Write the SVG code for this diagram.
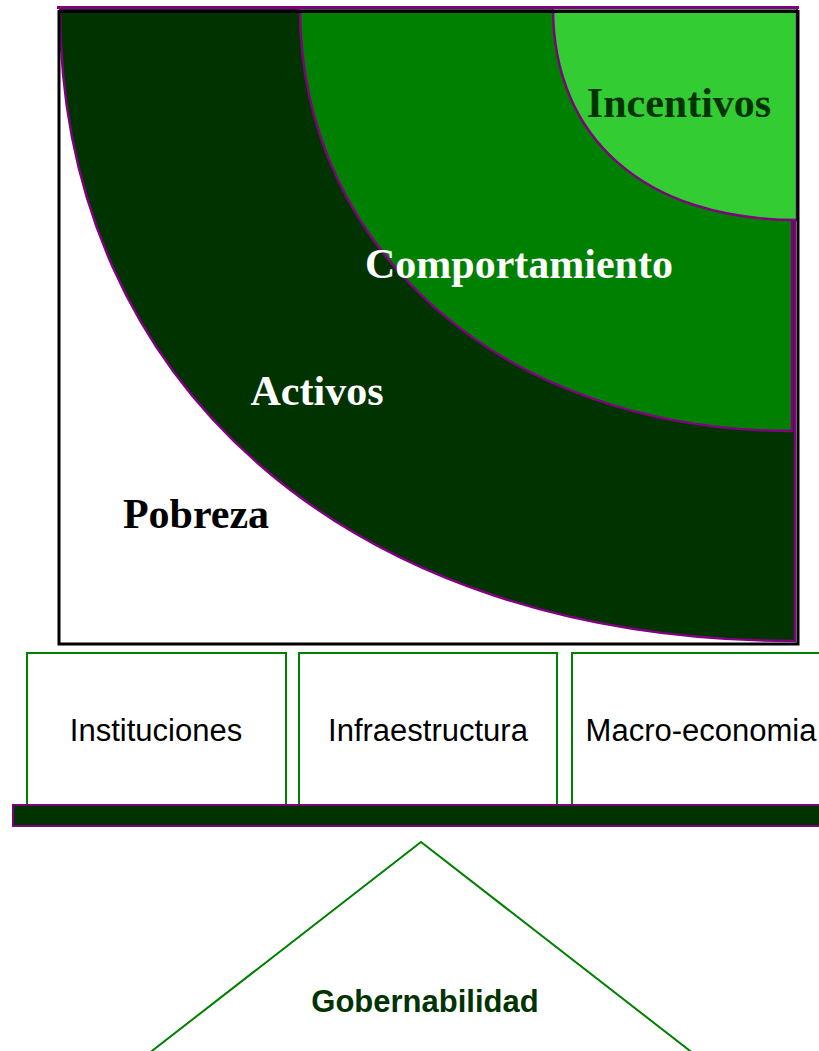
<svg xmlns="http://www.w3.org/2000/svg" width="819" height="1051" viewBox="0 0 819 1051">
  <style>
    .band { stroke: #800080; stroke-width: 2.5; }
    .lbl { font-family: "Liberation Serif", "Times New Roman", serif; font-weight: bold; font-size: 42px; text-anchor: middle; }
    .box { fill: #ffffff; stroke: #008000; stroke-width: 2; }
    .btxt { font-family: "Liberation Sans", Arial, sans-serif; font-size: 31px; fill: #000000; text-anchor: middle; }
  </style>
  <rect x="0" y="0" width="819" height="1051" fill="#ffffff"/>
  <g id="pobreza">
    <rect x="59" y="11.5" width="739" height="632.5" fill="#ffffff" stroke="none"/>
  </g>
  <g id="activos">
    <path class="band" d="M60,8 C60,388 354,641 795,641 L795,8 Z" fill="#003300"/>
  </g>
  <g id="comportamiento">
    <path class="band" d="M300,8 C300,253 507,431 792,431 L792,8 Z" fill="#008000"/>
  </g>
  <g id="incentivos">
    <path class="band" d="M553,8 C553,139 646,220 797,220 L797,8 Z" fill="#33CC33"/>
  </g>
  <g id="frame">
    <rect x="59" y="11.5" width="739" height="632.5" fill="none" stroke="#000000" stroke-width="3"/>
    <line x1="57" y1="7.5" x2="799" y2="7.5" stroke="#800080" stroke-width="3"/>
  </g>
  <g id="labels">
    <text class="lbl" x="679" y="117" fill="#003300">Incentivos</text>
    <text class="lbl" x="519" y="278" fill="#ffffff">Comportamiento</text>
    <text class="lbl" x="317" y="405" fill="#ffffff">Activos</text>
    <text class="lbl" x="196" y="528" fill="#000000">Pobreza</text>
  </g>
  <g id="instituciones">
    <rect class="box" x="27" y="653" width="259" height="152"/>
    <text class="btxt" x="156" y="741">Instituciones</text>
  </g>
  <g id="infraestructura">
    <rect class="box" x="299" y="653" width="258" height="152"/>
    <text class="btxt" x="428" y="741">Infraestructura</text>
  </g>
  <g id="macroeconomia">
    <rect class="box" x="572" y="653" width="260" height="152"/>
    <text class="btxt" x="701" y="741">Macro-economia</text>
  </g>
  <g id="barra">
    <rect x="13" y="805" width="820" height="21" fill="#003300" stroke="#800080" stroke-width="2"/>
  </g>
  <g id="gobernabilidad">
    <polyline points="148,1054 421,842 694,1054" fill="none" stroke="#008000" stroke-width="2"/>
    <text x="425" y="1012" font-family="Liberation Sans, Arial, sans-serif" font-weight="bold" font-size="31" fill="#003300" text-anchor="middle">Gobernabilidad</text>
  </g>
  <g id="connectors"></g>
</svg>
